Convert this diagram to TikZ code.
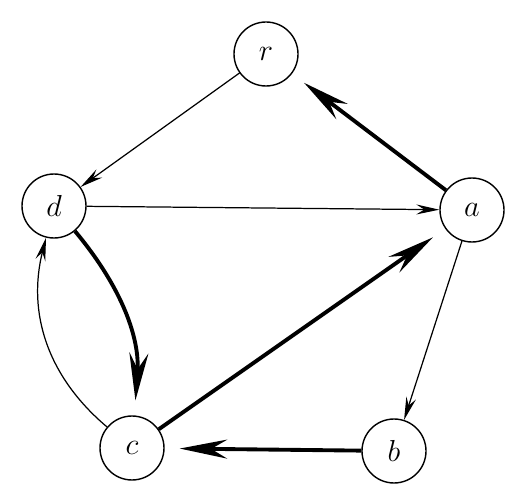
\documentclass[tikz,border=0pt]{standalone}
\usetikzlibrary{arrows.meta}

\tikzstyle{node}=[circle,inner sep=0.5mm,minimum size=12.8mm,draw=black,line width=0.8pt,font=\fontsize{16}{18}\selectfont]
\tikzstyle{thinEdge}=[-{Stealth[length=4.6mm,width=2mm,inset=1.6mm]},line width=0.7pt]
\tikzstyle{thickEdge}=[-{Stealth[length=9.5mm,width=3.8mm,inset=3.2mm]},line width=2.2pt,shorten >=3mm]

\begin{document}
\begin{tikzpicture}[bend angle = 20]
	\useasboundingbox (0,0) rectangle (10.22,-9.88);

	% Knoten
	\node(r) at (5.32,-1.08) [node] {$r$};
	\node(d) at (1.08,-4.12) [node] {$d$};
	\node(a) at (9.44,-4.20) [node] {$a$};
	\node(c) at (2.64,-8.96) [node] {$c$};
	\node(b) at (7.88,-9.02) [node] {$b$};

	% Kanten
	\draw[thinEdge] (r) -- (d);
	\draw[thickEdge] (a) -- (r);
	\draw[thinEdge] (d) -- (a);
	\draw[thickEdge] (d) to [bend left=22] (c);
	\draw[thinEdge] (c) to [bend left=32] (d);
	\draw[thickEdge] (c) -- (a);
	\draw[thinEdge] (a) -- (b);
	\draw[thickEdge] (b) -- (c);

\end{tikzpicture}
\end{document}
